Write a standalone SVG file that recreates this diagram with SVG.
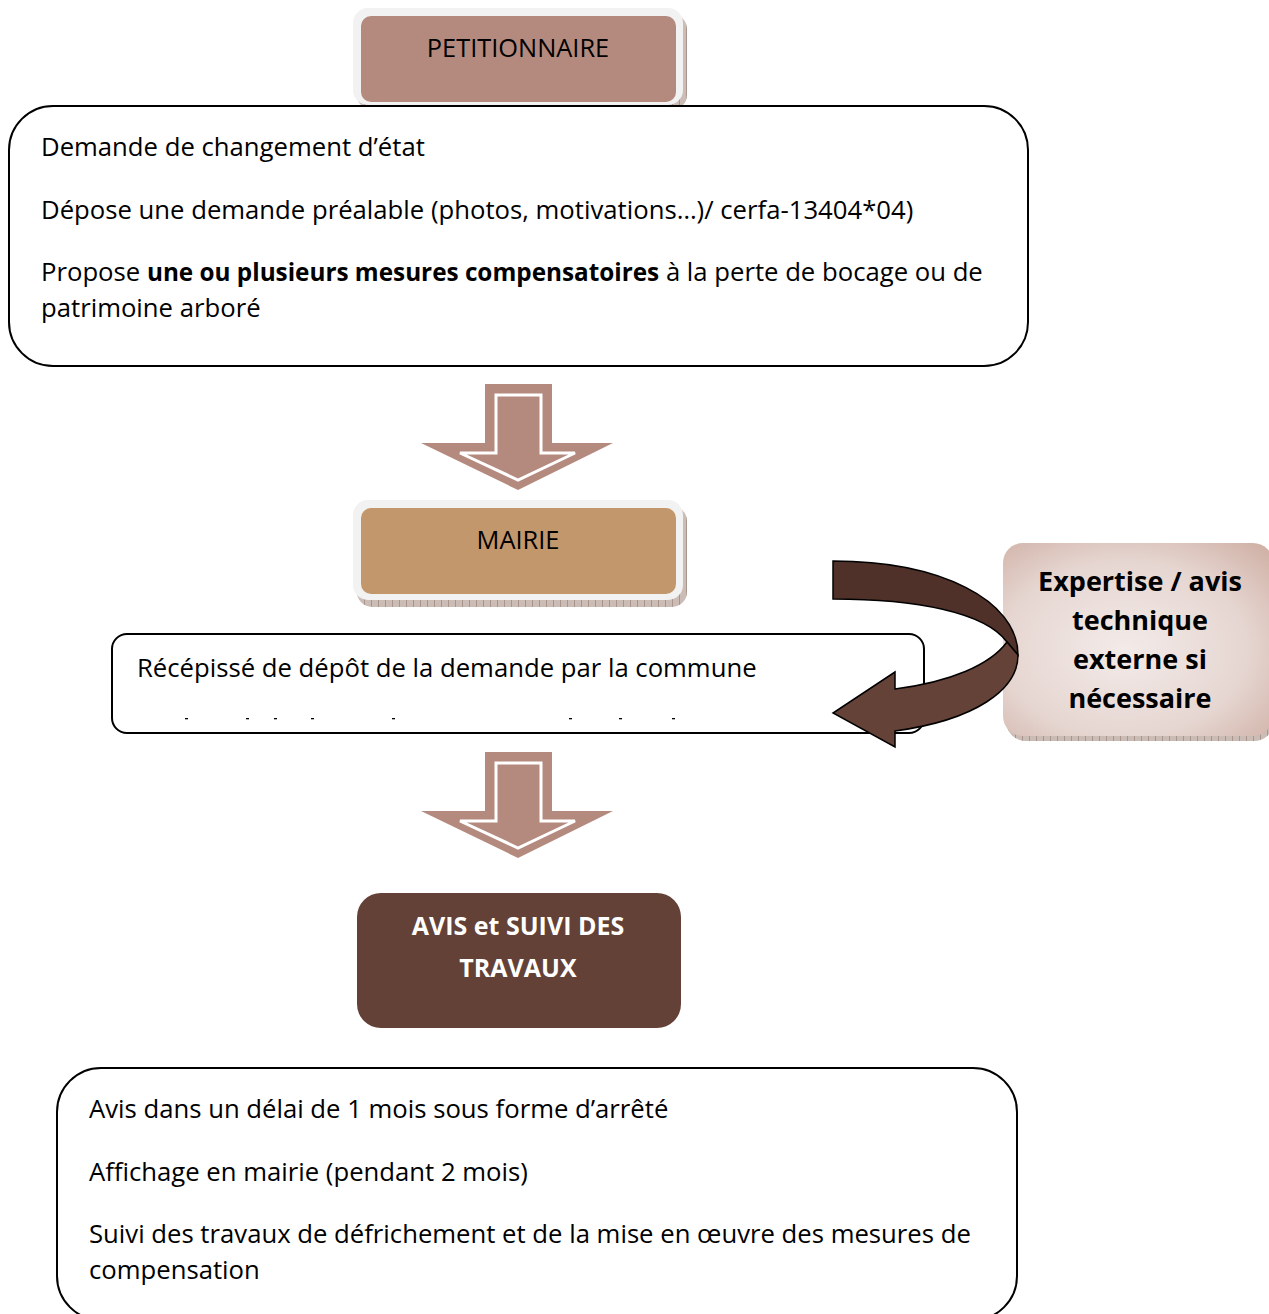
<svg xmlns="http://www.w3.org/2000/svg" width="1269" height="1314" viewBox="0 0 1269 1314">
<defs>
<style>
.t{font-family:"Open Sans","Noto Sans","Liberation Sans",sans-serif;font-size:25.7px;fill:#000}
.c{text-anchor:middle}
.b{font-weight:bold}
.box{fill:#fff;stroke:#000;stroke-width:2}
.outer{fill:#f2f2f2}
.shadow{fill:url(#hatch)}
.darr{fill:#b58a7e}
.darrin{fill:none;stroke:#fff;stroke-width:3;stroke-linejoin:miter}
.curve{stroke:#000;stroke-width:1.5;stroke-linejoin:miter}
</style>
<pattern id="hatch" width="7" height="7" patternUnits="userSpaceOnUse">
<rect width="7" height="7" fill="#cbbcb6"/>
<path d="M0 0V7" stroke="#8a6e64" stroke-width="1"/>
</pattern>
<radialGradient id="exg" cx="0.45" cy="0.55" r="0.75">
<stop offset="0" stop-color="#f3ebe9"/>
<stop offset="0.6" stop-color="#e6d6d1"/>
<stop offset="1" stop-color="#cfb0a5"/>
</radialGradient>
</defs>

<g id="petitionnaire">
<rect class="shadow" x="357" y="14" width="330" height="96" rx="15"/>
<rect class="outer" x="353" y="8" width="330" height="97" rx="15"/>
<rect x="361" y="16" width="315" height="86" rx="10" fill="#b58a7e"/>
<text class="t c" x="518" y="57" style="font-size:25.4px">PETITIONNAIRE</text>
</g>

<g id="demande">
<rect class="box" x="9" y="106" width="1019" height="260" rx="44"/>
<text class="t" x="41" y="156">Demande de changement d’état</text>
<text class="t" x="41" y="219">Dépose une demande préalable (photos, motivations…)/ cerfa-13404*04)</text>
<text class="t" x="41" y="281">Propose <tspan class="b" style="font-size:24.3px">une ou plusieurs mesures compensatoires</tspan> à la perte de bocage ou de</text>
<text class="t" x="41" y="317">patrimoine arboré</text>
</g>

<g id="mairie">
<rect class="shadow" x="357" y="506" width="330" height="101" rx="15"/>
<rect class="outer" x="353" y="500" width="330" height="100" rx="15"/>
<rect x="361" y="508" width="315" height="86" rx="10" fill="#c3976c"/>
<text class="t c" x="518" y="549" style="font-size:25.4px">MAIRIE</text>
</g>

<g id="recepisse">
<rect class="box" x="112" y="634" width="812" height="99" rx="15"/>
<text class="t" x="137" y="677">Récépissé de dépôt de la demande par la commune</text>
<g fill="#000">
<rect x="185" y="718" width="3" height="1.3"/>
<rect x="246" y="718" width="3" height="1.3"/>
<rect x="274" y="718" width="3" height="1.3"/>
<rect x="311" y="718" width="3" height="1.3"/>
<rect x="392" y="718" width="3" height="1.3"/>
<rect x="569" y="718" width="3" height="1.3"/>
<rect x="619" y="718" width="3" height="1.3"/>
<rect x="672" y="718" width="3" height="1.3"/>
</g>
</g>

<g id="expertise">
<rect class="shadow" x="1006" y="549" width="268" height="192" rx="20"/>
<rect x="1003" y="543" width="270" height="193" rx="20" fill="url(#exg)"/>
<text class="t c b" x="1140" y="591" style="font-size:27px">Expertise / avis</text>
<text class="t c b" x="1140" y="630" style="font-size:27px">technique</text>
<text class="t c b" x="1140" y="669" style="font-size:27px">externe si</text>
<text class="t c b" x="1140" y="708" style="font-size:27px">nécessaire</text>
</g>

<g id="avis">
<rect x="357" y="893" width="324" height="135" rx="24" fill="#634137"/>
<text class="t c b" x="518" y="935" style="fill:#fff;font-size:25px">AVIS et SUIVI DES</text>
<text class="t c b" x="518" y="977" style="fill:#fff;font-size:25px">TRAVAUX</text>
</g>

<g id="suivi">
<rect class="box" x="57" y="1068" width="960" height="252" rx="44"/>
<text class="t" x="89" y="1118">Avis dans un délai de 1 mois sous forme d’arrêté</text>
<text class="t" x="89" y="1181">Affichage en mairie (pendant 2 mois)</text>
<text class="t" x="89" y="1243">Suivi des travaux de défrichement et de la mise en œuvre des mesures de</text>
<text class="t" x="89" y="1279">compensation</text>
</g>

<g id="connectors">
<path class="darr" d="M485 384H552V443H613L518 490L421 443H485Z"/>
<path class="darrin" d="M496 395H541V453H575L518 480L460 453H496Z"/>
<path class="darr" d="M485 752H552V811H613L518 858L421 811H485Z"/>
<path class="darrin" d="M496 763H541V821H575L518 848L460 821H496Z"/>
<path class="curve" fill="#4f3129" d="M833 561C940 561 1018 600 1018 655L1007 642C985 612 915 599 833 599Z"/>
<path class="curve" fill="#654238" d="M1007 642C990 665 950 682 895 689L895 672L833 713L895 747L895 731C975 720 1018 690 1018 655Z"/>
</g>
</svg>
